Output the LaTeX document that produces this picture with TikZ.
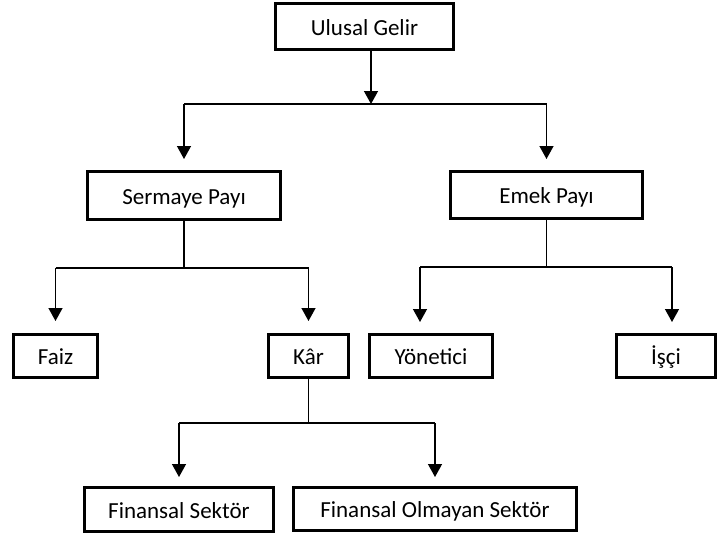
\documentclass[tikz,border=0pt]{standalone}
\usepackage{fontspec}
\setmainfont{Carlito}
\usetikzlibrary{arrows.meta}

\begin{document}
\begin{tikzpicture}[x=1pt, y=-1pt,
        box/.style={draw=black, line width=3pt, rectangle, inner sep=0pt, text height=17pt, text depth=0pt, font=\fontsize{23}{27}\selectfont},
        link/.style={line width=1.4pt},
        arr/.style={line width=1.4pt, -{Triangle[width=14pt, length=13pt]}}]
            \useasboundingbox (0, 0) rectangle (718, 538);

            \node[box, minimum width=178pt, minimum height=46pt] (gelir) at (364.5, 26.5) {Ulusal Gelir};
            \node[box, minimum width=193pt, minimum height=48pt] (sermaye) at (184, 195.5) {Sermaye Payı};
            \node[box, minimum width=192pt, minimum height=47pt] (emek) at (546.5, 195) {Emek Payı};
            \node[box, minimum width=84pt, minimum height=43pt] (faiz) at (55.5, 356) {Faiz};
            \node[box, minimum width=80pt, minimum height=43pt] (kar) at (308.5, 356) {Kâr};
            \node[box, minimum width=123pt, minimum height=43pt] (yonetici) at (431, 356) {Yönetici};
            \node[box, minimum width=99pt, minimum height=43pt] (isci) at (666, 356) {İşçi};
            \node[box, minimum width=189pt, minimum height=44pt] (finansal) at (179, 509.5) {Finansal Sektör};
            \node[box, minimum width=283pt, minimum height=43pt] (finansal_olmayan) at (435, 509) {Finansal Olmayan Sektör};

            \coordinate (gelir_split) at (371, 104);
            \coordinate (sermaye_split) at (184, 268);
            \coordinate (emek_split) at (546.5, 267);
            \coordinate (kar_split) at (308.5, 423);
            \coordinate (yonetici_in) at (420, 322);
            \coordinate (isci_in) at (672, 322);

            \draw [arr] (gelir.south -| gelir_split) -- (gelir_split);
            \draw [link] (gelir_split -| sermaye.north) -- (gelir_split -| emek.north);
            \draw [arr, shorten >=11pt] (gelir_split -| sermaye.north) -- (sermaye.north);
            \draw [arr, shorten >=11pt] (gelir_split -| emek.north) -- (emek.north);

            \draw [link] (sermaye.south) -- (sermaye_split);
            \draw [link] (sermaye_split -| faiz.north) -- (sermaye_split -| kar.north);
            \draw [arr, shorten >=12pt] (sermaye_split -| faiz.north) -- (faiz.north);
            \draw [arr, shorten >=12pt] (sermaye_split -| kar.north) -- (kar.north);

            \draw [link] (emek.south) -- (emek_split);
            \draw [link] (emek_split -| yonetici_in) -- (emek_split -| isci_in);
            \draw [arr] (emek_split -| yonetici_in) -- (yonetici_in);
            \draw [arr] (emek_split -| isci_in) -- (isci_in);

            \draw [link] (kar.south) -- (kar_split);
            \draw [link] (kar_split -| finansal.north) -- (kar_split -| finansal_olmayan.north);
            \draw [arr, shorten >=9pt] (kar_split -| finansal.north) -- (finansal.north);
            \draw [arr, shorten >=9pt] (kar_split -| finansal_olmayan.north) -- (finansal_olmayan.north);
        \end{tikzpicture}
\end{document}
